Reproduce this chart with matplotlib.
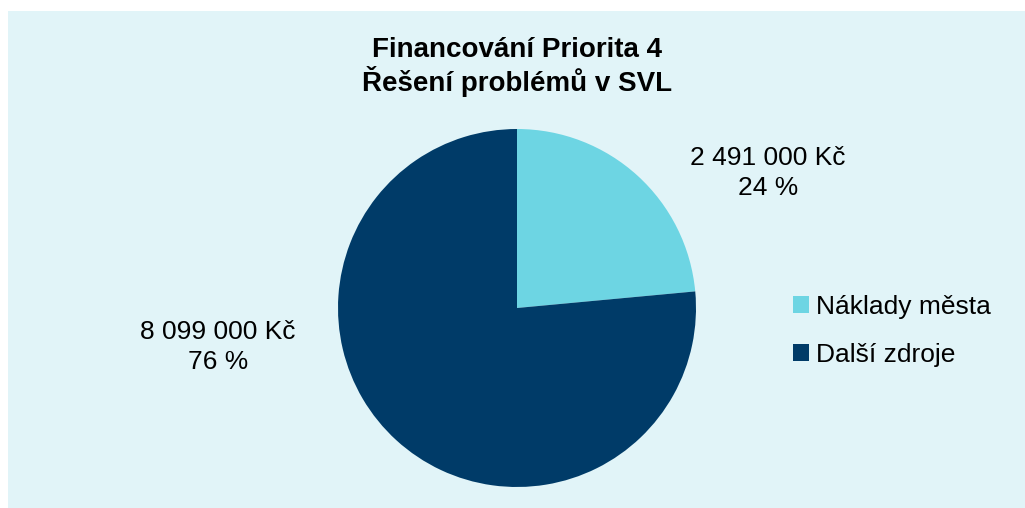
import matplotlib.pyplot as plt
from matplotlib.patches import Rectangle

plt.rcParams['font.family'] = ['Liberation Sans', 'DejaVu Sans']

labels = ["Náklady města", "Další zdroje"]
values = [2491000, 8099000]
percents = ["24 %", "76 %"]
colors = ["#6DD5E3", "#003B68"]
bg = "#E1F4F8"

W, H = 1025, 508
fig = plt.figure(figsize=(W / 100, H / 100), dpi=100)
fig.patch.set_facecolor("white")
fig.add_artist(Rectangle((8 / W, -0.1), 1, 1.1 - 11 / H, transform=fig.transFigure,
                         facecolor=bg, edgecolor="none", zorder=-10))

cx, cy, r = 517, 308, 179
ax = fig.add_axes([(cx - r) / W, (H - cy - r) / H, 2 * r / W, 2 * r / H])
wedges, _ = ax.pie(values, colors=colors, startangle=90, counterclock=False,
                   radius=1, wedgeprops=dict(linewidth=0))
ax.set_xlim(-1, 1)
ax.set_ylim(-1, 1)
ax.set_aspect("equal")
ax.axis("off")

def fmt(v):
    return f"{v:,}".replace(",", " ") + " Kč"

fig.text(768 / W, 1 - 173 / H, fmt(values[0]) + "\n" + percents[0], ha="center", va="center",
         fontsize=19, linespacing=1.35)
fig.text(218 / W, 1 - 347 / H, fmt(values[1]) + "\n" + percents[1], ha="center", va="center",
         fontsize=19, linespacing=1.35)

fig.text(517 / W, 1 - 67 / H, "Financování Priorita 4\nŘešení problémů v SVL", ha="center",
         va="center", fontsize=20, fontweight="bold", linespacing=1.1)

fig.legend(wedges, labels, loc="center left", bbox_to_anchor=(769 / W, 1 - 331 / H),
           frameon=False, fontsize=19, handlelength=0.6, handleheight=0.6,
           handletextpad=0.3, labelspacing=0.9)

fig.savefig("out.png", dpi=100, facecolor="white")
